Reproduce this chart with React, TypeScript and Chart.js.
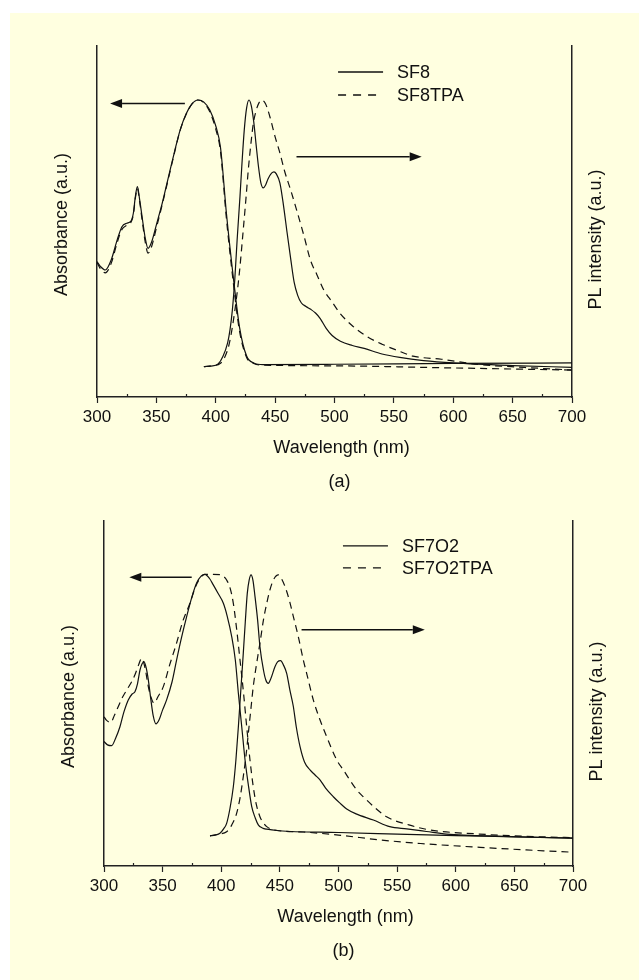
import React, { useEffect, useRef } from "react";
import { Chart, registerables } from "chart.js";

Chart.register(...registerables);

// ---------- shared axis data ----------
const WAVELENGTH_MIN = 300;
const WAVELENGTH_MAX = 700;
const MAJOR_STEP = 50;
const MINOR_TICKS = [325, 375, 425, 475, 525, 575, 625, 675];

// ---------- panel (a) ----------
const absSF8_wl = [300, 303, 307, 312, 317, 321, 325, 328.4, 330.6, 332.3, 334, 336, 338.7, 340.5, 343, 346, 350, 355, 360, 365, 370, 375, 380, 385, 390, 395, 400, 404, 409, 415, 420, 426, 432, 440, 500, 600, 700];
const absSF8_val = [0.388, 0.369, 0.356, 0.395, 0.47, 0.52, 0.533, 0.54, 0.571, 0.634, 0.672, 0.62, 0.534, 0.48, 0.438, 0.462, 0.527, 0.61, 0.705, 0.799, 0.886, 0.947, 0.985, 1.0, 0.992, 0.962, 0.902, 0.82, 0.57, 0.32, 0.14, 0.03, 0.004, -0.002, -0.001, 0.002, 0.004];

const absSF8TPA_wl = [300, 303, 307, 312, 317, 321, 325, 328.4, 330.6, 332.3, 334, 336, 338.7, 340.5, 343, 346, 350, 355, 360, 365, 370, 375, 380, 385, 390, 395, 400, 404, 409, 415, 420, 426, 432, 440, 500, 600, 700];
const absSF8TPA_val = [0.385, 0.36, 0.345, 0.382, 0.46, 0.51, 0.525, 0.535, 0.565, 0.628, 0.665, 0.612, 0.522, 0.465, 0.42, 0.445, 0.515, 0.605, 0.7, 0.795, 0.885, 0.945, 0.985, 1.0, 0.99, 0.955, 0.89, 0.805, 0.55, 0.3, 0.125, 0.025, 0.002, -0.004, -0.007, -0.015, -0.023];

const plSF8_wl = [390, 396, 402, 406, 410, 412, 414, 416, 418, 420.4, 422, 424, 426, 428, 430, 432, 434, 436, 438, 440, 442, 444, 447, 449, 451, 454, 457, 460, 463, 466, 469, 472, 476, 480, 484, 488, 493, 498, 505, 515, 525, 540, 555, 575, 600, 650, 700];
const plSF8_val = [-0.01, -0.008, 0.0, 0.028, 0.08, 0.129, 0.205, 0.318, 0.47, 0.634, 0.754, 0.886, 0.97, 1.0, 0.977, 0.917, 0.83, 0.747, 0.686, 0.667, 0.678, 0.701, 0.723, 0.728, 0.72, 0.686, 0.602, 0.5, 0.402, 0.31, 0.26, 0.232, 0.218, 0.207, 0.193, 0.172, 0.135, 0.108, 0.086, 0.07, 0.059, 0.038, 0.025, 0.013, 0.004, -0.006, -0.0125];

const plSF8TPA_wl = [390, 396, 404, 408, 411, 414, 417.6, 420, 423, 425.5, 427.4, 429.5, 431.6, 434, 436.5, 438.7, 442, 446, 450, 454, 458, 463, 468, 474, 480, 485, 491, 498, 505, 515, 527, 540, 552, 566, 590, 622, 660, 700];
const plSF8TPA_val = [-0.01, -0.007, 0.003, 0.03, 0.07, 0.14, 0.255, 0.35, 0.5, 0.63, 0.735, 0.83, 0.91, 0.96, 0.99, 1.0, 0.985, 0.93, 0.86, 0.8, 0.73, 0.66, 0.585, 0.49, 0.39, 0.34, 0.28, 0.235, 0.19, 0.145, 0.105, 0.075, 0.053, 0.03, 0.018, -0.002, -0.013, -0.023];

// ---------- panel (b) ----------
const absSF7O2_wl = [300, 303, 306.5, 310, 313.6, 317, 320.7, 324, 326.4, 328.5, 330.7, 332.5, 334.1, 336, 337.8, 340, 342, 344.3, 347, 350, 353.4, 358, 361.9, 366, 370.5, 375, 379, 383, 386.1, 390, 393.2, 397, 401.8, 405, 408.9, 412, 414.6, 417.5, 420.3, 423, 426, 429, 431.6, 435, 438.8, 449, 500, 550, 600, 650, 700];
const absSF7O2_val = [0.346, 0.333, 0.33, 0.36, 0.404, 0.462, 0.509, 0.532, 0.541, 0.571, 0.626, 0.65, 0.659, 0.634, 0.587, 0.509, 0.446, 0.415, 0.431, 0.47, 0.509, 0.579, 0.665, 0.751, 0.835, 0.912, 0.966, 0.994, 1.0, 0.984, 0.959, 0.928, 0.887, 0.838, 0.757, 0.665, 0.535, 0.403, 0.274, 0.18, 0.091, 0.047, 0.02, 0.008, 0.003, -0.003, -0.01, -0.016, -0.022, -0.027, -0.032];

const absSF7O2TPA_wl = [300, 302, 305.7, 309, 312.2, 316, 319.4, 323, 326.4, 329.5, 332.1, 335, 337.8, 340, 342.6, 346, 350.6, 356, 361.9, 367, 373.3, 378, 381.9, 386, 392, 399, 402, 404.6, 407.5, 410.3, 413, 416, 419, 421.7, 424.5, 427.3, 430, 433, 436, 438.8, 445, 470, 500, 535.6, 570, 620.7, 660, 700];
const absSF7O2TPA_val = [0.443, 0.43, 0.421, 0.45, 0.483, 0.521, 0.548, 0.575, 0.607, 0.646, 0.672, 0.634, 0.561, 0.521, 0.496, 0.521, 0.561, 0.646, 0.731, 0.814, 0.887, 0.951, 0.985, 1.0, 1.0, 0.999, 0.992, 0.978, 0.947, 0.887, 0.791, 0.665, 0.536, 0.404, 0.274, 0.169, 0.098, 0.052, 0.027, 0.013, 0.0, -0.008, -0.02, -0.039, -0.053, -0.068, -0.078, -0.087];

const plSF7O2_wl = [390.4, 395, 398.9, 402, 404.6, 407.5, 410.3, 412.5, 414.6, 416.7, 418.8, 420.5, 422.2, 423.8, 425.4, 427, 428.8, 431, 433, 436, 438, 440.1, 442.5, 445.8, 448, 450.7, 453, 455.8, 458.5, 461.4, 464, 467.2, 471, 475.7, 480, 484.2, 489, 495.6, 501, 507, 515, 529.7, 543.7, 558.2, 575, 592, 640, 700];
const plSF7O2_val = [-0.023, -0.02, -0.013, 0.004, 0.026, 0.086, 0.169, 0.274, 0.404, 0.548, 0.692, 0.814, 0.926, 0.978, 0.998, 0.978, 0.913, 0.822, 0.717, 0.626, 0.587, 0.574, 0.595, 0.639, 0.658, 0.663, 0.646, 0.613, 0.548, 0.485, 0.403, 0.326, 0.266, 0.235, 0.215, 0.196, 0.164, 0.13, 0.106, 0.082, 0.063, 0.039, 0.013, 0.004, -0.006, -0.016, -0.025, -0.032];

const plSF7O2TPA_wl = [390.4, 398, 404.6, 409, 413.1, 416, 418.8, 421, 423.1, 425.2, 427.3, 430, 433, 436, 438.8, 441.5, 444.4, 448.7, 451.5, 454.4, 458, 461.5, 466, 470, 473, 478.5, 484.2, 489.9, 498.5, 504.1, 515.5, 521.1, 541, 560, 578, 620, 660, 700];
const plSF7O2TPA_val = [-0.023, -0.016, -0.007, 0.02, 0.065, 0.125, 0.209, 0.286, 0.378, 0.47, 0.561, 0.646, 0.731, 0.822, 0.887, 0.939, 0.978, 0.998, 0.982, 0.952, 0.9, 0.835, 0.751, 0.665, 0.61, 0.509, 0.431, 0.365, 0.274, 0.235, 0.157, 0.13, 0.052, 0.02, 0.0, -0.016, -0.025, -0.03];

// ---------- styling ----------
const FONT = '"Liberation Sans", Arial, Helvetica, sans-serif';
const INK = "#111111";
const AXIS_INK = "#222222";
const BG = "#FFFFE0";

type Curve = { label: string; wl: number[]; val: number[]; dashed: boolean; legend: boolean };
type Arrow = { from: [number, number]; to: [number, number] };
type PanelSpec = {
  curves: Curve[];
  yMin: number;
  yMax: number;
  padding: { left: number; right: number; top: number };
  xAxisHeight: number;
  legendAt: [number, number];
  legendRowGap: number;
  arrows: Arrow[];
  caption: string;
};

function toPoints(wl: number[], val: number[]) {
  return wl.map((x, i) => ({ x, y: val[i] }));
}

function drawArrow(ctx: CanvasRenderingContext2D, x1: number, y1: number, x2: number, y2: number) {
  const dir = Math.sign(x2 - x1);
  const headLen = 12;
  const headHalf = 4.5;
  ctx.save();
  ctx.strokeStyle = INK;
  ctx.fillStyle = INK;
  ctx.lineWidth = 1.5;
  ctx.setLineDash([]);
  ctx.beginPath();
  ctx.moveTo(x1, y1);
  ctx.lineTo(x2 - dir * headLen, y2);
  ctx.stroke();
  ctx.beginPath();
  ctx.moveTo(x2, y2);
  ctx.lineTo(x2 - dir * headLen, y2 - headHalf);
  ctx.lineTo(x2 - dir * headLen, y2 + headHalf);
  ctx.closePath();
  ctx.fill();
  ctx.restore();
}

function makeDecorPlugin(spec: PanelSpec) {
  return {
    id: "decor",
    afterDatasetsDraw(chart: any) {
      const ctx: CanvasRenderingContext2D = chart.ctx;
      const { left, right, top, bottom } = chart.chartArea;
      const xs = chart.scales.x;
      const ys = chart.scales.y;
      const cx = (left + right) / 2;
      const cy = (top + bottom) / 2;

      // minor ticks (pointing into the plot)
      ctx.save();
      ctx.strokeStyle = AXIS_INK;
      ctx.lineWidth = 1.2;
      ctx.beginPath();
      for (const m of MINOR_TICKS) {
        const px = Math.round(xs.getPixelForValue(m)) + 0.5;
        ctx.moveTo(px, bottom);
        ctx.lineTo(px, bottom - 3);
      }
      ctx.stroke();
      ctx.restore();

      // arrows
      for (const a of spec.arrows) {
        drawArrow(
          ctx,
          xs.getPixelForValue(a.from[0]),
          ys.getPixelForValue(a.from[1]),
          xs.getPixelForValue(a.to[0]),
          ys.getPixelForValue(a.to[1])
        );
      }

      // legend
      const lx = xs.getPixelForValue(spec.legendAt[0]);
      let ly = ys.getPixelForValue(spec.legendAt[1]);
      ctx.save();
      ctx.font = `18px ${FONT}`;
      ctx.fillStyle = INK;
      ctx.textBaseline = "middle";
      ctx.textAlign = "left";
      for (const c of spec.curves.filter((k) => k.legend)) {
        ctx.strokeStyle = INK;
        ctx.lineWidth = 1.3;
        ctx.setLineDash(c.dashed ? [8, 7] : []);
        ctx.beginPath();
        ctx.moveTo(lx, ly);
        ctx.lineTo(lx + 45, ly);
        ctx.stroke();
        ctx.setLineDash([]);
        ctx.fillText(c.label, lx + 59, ly + 1);
        ly += spec.legendRowGap;
      }
      ctx.restore();

      // titles
      ctx.save();
      ctx.font = `18px ${FONT}`;
      ctx.fillStyle = INK;
      ctx.textAlign = "center";
      ctx.textBaseline = "middle";
      ctx.fillText("Wavelength (nm)", cx + 7, bottom + 51);
      ctx.fillText(spec.caption, cx + 5, bottom + 85);

      ctx.save();
      ctx.translate(left - 35, cy + 3);
      ctx.rotate(-Math.PI / 2);
      ctx.fillText("Absorbance (a.u.)", 0, 0);
      ctx.restore();

      ctx.save();
      ctx.translate(right + 24, cy + 18);
      ctx.rotate(-Math.PI / 2);
      ctx.fillText("PL intensity (a.u.)", 0, 0);
      ctx.restore();
      ctx.restore();
    },
  };
}

function buildConfig(spec: PanelSpec): any {
  return {
    type: "line",
    data: {
      datasets: spec.curves.map((c) => ({
        label: c.label,
        data: toPoints(c.wl, c.val),
        borderColor: INK,
        borderWidth: 1.2,
        borderDash: c.dashed ? [7, 5] : [],
        pointRadius: 0,
        fill: false,
        cubicInterpolationMode: "monotone",
        yAxisID: "y",
      })),
    },
    options: {
      animation: false,
      responsive: false,
      devicePixelRatio: 1,
      layout: { padding: { left: spec.padding.left, right: spec.padding.right, top: spec.padding.top, bottom: 0 } },
      plugins: { legend: { display: false }, tooltip: { enabled: false }, title: { display: false } },
      scales: {
        x: {
          type: "linear",
          position: "bottom",
          min: WAVELENGTH_MIN,
          max: WAVELENGTH_MAX,
          ticks: {
            stepSize: MAJOR_STEP,
            color: INK,
            font: { family: FONT, size: 17 },
            padding: 4,
            maxRotation: 0,
            autoSkip: false,
          },
          grid: { display: true, drawOnChartArea: false, drawTicks: true, tickLength: 6, tickColor: AXIS_INK, tickWidth: 1.2 },
          border: { display: true, color: AXIS_INK, width: 1.5 },
          afterFit: (s: any) => {
            s.height = spec.xAxisHeight;
          },
        },
        y: {
          position: "left",
          min: spec.yMin,
          max: spec.yMax,
          ticks: { display: false },
          grid: { display: false, drawTicks: false },
          border: { display: true, color: AXIS_INK, width: 1.5 },
          afterFit: (s: any) => {
            s.width = 0;
          },
        },
        y2: {
          position: "right",
          min: spec.yMin,
          max: spec.yMax,
          ticks: { display: false },
          grid: { display: false, drawTicks: false },
          border: { display: true, color: AXIS_INK, width: 1.5 },
          afterFit: (s: any) => {
            s.width = 0;
          },
        },
      },
    },
    plugins: [makeDecorPlugin(spec)],
  };
}

const panelA: PanelSpec = {
  curves: [
    { label: "SF8", wl: absSF8_wl, val: absSF8_val, dashed: false, legend: true },
    { label: "SF8TPA", wl: absSF8TPA_wl, val: absSF8TPA_val, dashed: true, legend: true },
    { label: "SF8 PL", wl: plSF8_wl, val: plSF8_val, dashed: false, legend: false },
    { label: "SF8TPA PL", wl: plSF8TPA_wl, val: plSF8TPA_val, dashed: true, legend: false },
  ],
  yMin: -0.125,
  yMax: 1.2045,
  padding: { left: 87, right: 67, top: 33 },
  xAxisHeight: 103,
  legendAt: [503, 1.106],
  legendRowGap: 23,
  arrows: [
    { from: [374, 0.987], to: [311, 0.987] },
    { from: [468, 0.785], to: [573.4, 0.785] },
  ],
  caption: "(a)",
};

const panelB: PanelSpec = {
  curves: [
    { label: "SF7O2", wl: absSF7O2_wl, val: absSF7O2_val, dashed: false, legend: true },
    { label: "SF7O2TPA", wl: absSF7O2TPA_wl, val: absSF7O2TPA_val, dashed: true, legend: true },
    { label: "SF7O2 PL", wl: plSF7O2_wl, val: plSF7O2_val, dashed: false, legend: false },
    { label: "SF7O2TPA PL", wl: plSF7O2TPA_wl, val: plSF7O2TPA_val, dashed: true, legend: false },
  ],
  yMin: -0.141,
  yMax: 1.209,
  padding: { left: 94, right: 66, top: 21 },
  xAxisHeight: 114,
  legendAt: [503.8, 1.112],
  legendRowGap: 22,
  arrows: [
    { from: [374.8, 0.989], to: [321.6, 0.989] },
    { from: [468.5, 0.783], to: [573.6, 0.783] },
  ],
  caption: "(b)",
};

function Panel({ spec, width, height, top }: { spec: PanelSpec; width: number; height: number; top: number }) {
  const ref = useRef<HTMLCanvasElement | null>(null);
  useEffect(() => {
    if (!ref.current) return;
    const chart = new Chart(ref.current, buildConfig(spec));
    return () => chart.destroy();
  }, [spec]);
  return (
    <canvas
      ref={ref}
      width={width}
      height={height}
      style={{ position: "absolute", left: 0, top, width, height, display: "block" }}
    />
  );
}

export default function App() {
  return (
    <div
      style={{
        position: "absolute",
        left: 10,
        top: 13,
        width: 629,
        height: 967,
        background: BG,
        overflow: "hidden",
      }}
    >
      <Panel spec={panelA} width={629} height={487} top={0} />
      <Panel spec={panelB} width={629} height={480} top={487} />
    </div>
  );
}
